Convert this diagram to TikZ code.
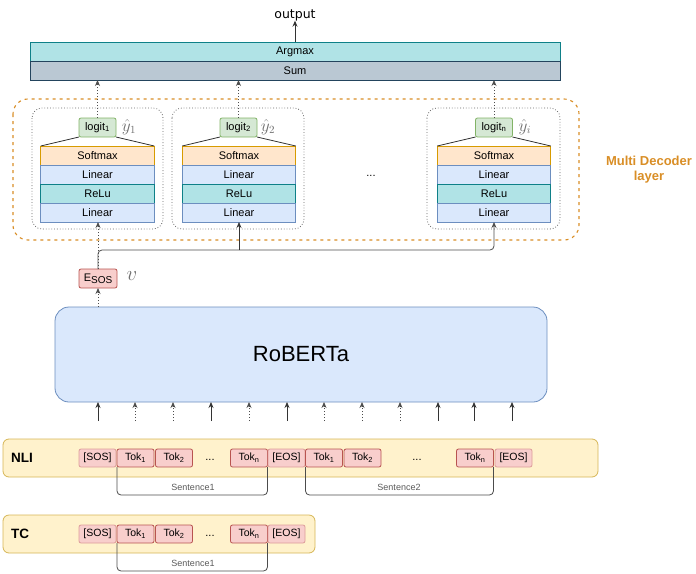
\documentclass[tikz,border=0pt]{standalone}
\usepackage{fontspec}
\setmainfont{Liberation Sans}
\newfontfamily\djv{DejaVu Sans}
\usetikzlibrary{arrows.meta}
\definecolor{argfill}{HTML}{B0E3E6}\definecolor{argdraw}{HTML}{0E8088}
\definecolor{sumfill}{HTML}{BAC8D3}\definecolor{sumdraw}{HTML}{23445D}
\definecolor{softfill}{HTML}{FFE6CC}\definecolor{softdraw}{HTML}{D79B00}
\definecolor{linfill}{HTML}{DAE8FC}\definecolor{lindraw}{HTML}{6C8EBF}
\definecolor{logfill}{HTML}{D5E8D4}\definecolor{logdraw}{HTML}{82B366}
\definecolor{pinkfill}{HTML}{F8CECC}\definecolor{pinkdraw}{HTML}{B85450}
\definecolor{yelfill}{HTML}{FFF2CC}\definecolor{yeldraw}{HTML}{D6B656}
\definecolor{orangeline}{HTML}{D98E26}
\definecolor{hatgray}{HTML}{6E6E6E}
\newcommand\mkdecoder[2]{%
  \node[layer,fill=softfill,draw=softdraw] (sm#1) at (#2,155.5) {Softmax};
  \node[layer,fill=linfill,draw=lindraw] (la#1) at (#2,174.5) {Linear};
  \node[layer,fill=argfill,draw=argdraw] (re#1) at (#2,193.5) {ReLu};
  \node[layer,fill=linfill,draw=lindraw] (lb#1) at (#2,212.5) {Linear};
}
\begin{document}
\begin{tikzpicture}[x=1pt,y=-1pt,
  every node/.style={inner sep=0pt,outer sep=0pt},
  thinline/.style={line width=0.8pt},
  layer/.style={thinline,rectangle,minimum width=113.5pt,minimum height=19pt,font=\fontsize{11}{13}\selectfont},
  bar/.style={thinline,rectangle,minimum width=530pt,minimum height=19pt,font=\fontsize{11}{13}\selectfont},
  logitbox/.style={thinline,rectangle,rounded corners=2pt,fill=logfill,draw=logdraw,minimum width=37pt,minimum height=19pt,font=\fontsize{11}{13}\selectfont},
  decbox/.style={line width=0.8pt,draw=gray!80!black,dotted,rounded corners=10pt},
  tok/.style={thinline,rectangle,rounded corners=2pt,fill=pinkfill,draw=pinkdraw,minimum width=37pt,minimum height=18pt,font=\fontsize{10.5}{12}\selectfont},
  special/.style={tok,draw=pinkfill!60!pinkdraw},
  rowbox/.style={thinline,rectangle,rounded corners=6pt,fill=yelfill,draw=yeldraw},
  arr/.style={thinline,draw=black!80,-{Stealth[length=6pt,width=5pt]}},
  dotarr/.style={thinline,draw=black!70,dash pattern=on 1.5pt off 1.5pt,-{Stealth[length=6pt,width=5pt]}},
  bracket/.style={thinline,draw=black!70,rounded corners=4pt},
  brlabel/.style={font=\fontsize{9}{11}\selectfont,text=black!65},
  hatlabel/.style={text=hatgray,font=\fontsize{16}{18}\selectfont}
]
\useasboundingbox (0,0) rectangle (696,573);

% top bars
\node[bar,fill=argfill,draw=argdraw] (argmax) at (295,51.5) {Argmax};
\node[bar,fill=sumfill,draw=sumdraw] (sum) at (295,70.5) {Sum};
\node[font=\djv\fontsize{12.5}{14}\selectfont] (output) at (295,15) {output};
\draw[arr] (argmax.north) -- (output.south);

% multi decoder frame
\draw[line width=1.1pt,draw=orangeline,dashed,dash pattern=on 3pt off 4pt,rounded corners=15pt] (13,99) rectangle (579,240);
\node[font=\bfseries\fontsize{13}{15}\selectfont,text=orangeline,align=center] (mdl) at (649,170) {Multi Decoder\\layer};

% decoder boxes
\draw[decbox] (32,108) rectangle (163,229);
\draw[decbox] (172,108) rectangle (304,229);
\draw[decbox] (427,108) rectangle (560,229);

\mkdecoder{1}{97.5}
\mkdecoder{2}{239}
\mkdecoder{3}{494}

\node[logitbox] (lg1) at (97.5,127.5) {logit\textsubscript{1}};
\node[logitbox] (lg2) at (238.5,127.5) {logit\textsubscript{2}};
\node[logitbox] (lg3) at (494,127.5) {logit\textsubscript{n}};
\node[hatlabel] (h1) at (129,127) {$\hat{y}_1$};
\node[hatlabel] (h2) at (268,127) {$\hat{y}_2$};
\node[hatlabel] (h3) at (525,127) {$\hat{y}_i$};
\node[font=\fontsize{11}{13}\selectfont] (ddots) at (371,176) {...};

\foreach \i in {1,2,3}{
  \draw[thinline,black!80] (lg\i.south west) -- (sm\i.north west);
  \draw[thinline,black!80] (lg\i.south east) -- (sm\i.north east);
  \draw[dotarr] (lg\i.north) -- (lg\i.north |- sum.south);
}

% E_SOS
\node[thinline,rectangle,rounded corners=2pt,fill=pinkfill,draw=pinkdraw,minimum width=38pt,minimum height=19pt,font=\fontsize{11}{13}\selectfont] (esos) at (98,278.5) {E\raisebox{-2pt}{\fontsize{10}{12}\selectfont SOS}};
\node[text=hatgray,font=\fontsize{20}{22}\selectfont] (vlab) at (132,276) {$v$};
\coordinate (j) at (0,250);
\draw[thinline,draw=black!70,rounded corners=4pt,-{Stealth[length=6pt,width=5pt]}] (esos.north) -- (esos.north |- j) -- (lb3.south |- j) -- (lb3.south);
\draw[arr] (lb2.south |- j) -- (lb2.south);
\draw[dotarr] (esos.north) -- (esos.north |- lb1.south);

% RoBERTa
\node[thinline,rectangle,rounded corners=14pt,fill=linfill,draw=lindraw,minimum width=492pt,minimum height=95pt,font=\fontsize{22}{26}\selectfont] (rob) at (301,354.5) {RoBERTa};
\draw[dotarr] (esos.south |- rob.north) -- (esos.south);

% input arrows
\foreach \x/\s in {98/arr,135/dotarr,173/dotarr,211/arr,249/dotarr,287/arr,324/dotarr,362/dotarr,400/dotarr,438/arr,474/arr,512/arr}{
  \coordinate (in\x) at (\x,421);
  \draw[\s] (in\x) -- (in\x |- rob.south);
}

% NLI row
\node[rowbox,minimum width=595pt,minimum height=38pt] (nli) at (300.5,458) {};
\node[font=\bfseries\fontsize{13.5}{15}\selectfont] (nlit) at (22,458) {NLI};
\node[special] (ns) at (97.5,458) {[SOS]};
\node[tok] (na1) at (135.5,458) {Tok\textsubscript{1}};
\node[tok] (na2) at (174,458) {Tok\textsubscript{2}};
\node[font=\fontsize{11}{13}\selectfont] (nad) at (210,460) {...};
\node[tok] (nan) at (249,458) {Tok\textsubscript{n}};
\node[special] (ne1) at (286.5,458) {[EOS]};
\node[tok] (nb1) at (324,458) {Tok\textsubscript{1}};
\node[tok] (nb2) at (362.5,458) {Tok\textsubscript{2}};
\node[font=\fontsize{11}{13}\selectfont] (nbd) at (417,460) {...};
\node[tok] (nbn) at (475,458) {Tok\textsubscript{n}};
\node[special] (ne2) at (513.5,458) {[EOS]};
\draw[bracket] (na1.south west) -- ++(0,28) -| (nan.south east);
\draw[bracket] (nb1.south west) -- ++(0,28) -| (nbn.south east);
\node[brlabel] (s1) at (193,487) {Sentence1};
\node[brlabel] (s2) at (399,487) {Sentence2};

% TC row
\node[rowbox,minimum width=312pt,minimum height=38pt] (tc) at (159,534) {};
\node[font=\bfseries\fontsize{13.5}{15}\selectfont] (tct) at (20,534) {TC};
\node[special] (ts) at (97.5,534) {[SOS]};
\node[tok] (ta1) at (135.5,534) {Tok\textsubscript{1}};
\node[tok] (ta2) at (174,534) {Tok\textsubscript{2}};
\node[font=\fontsize{11}{13}\selectfont] (tad) at (210,536) {...};
\node[tok] (tan) at (249,534) {Tok\textsubscript{n}};
\node[special] (te) at (286.5,534) {[EOS]};
\draw[bracket] (ta1.south west) -- ++(0,28) -| (tan.south east);
\node[brlabel] (s3) at (193,563) {Sentence1};
\end{tikzpicture}
\end{document}
